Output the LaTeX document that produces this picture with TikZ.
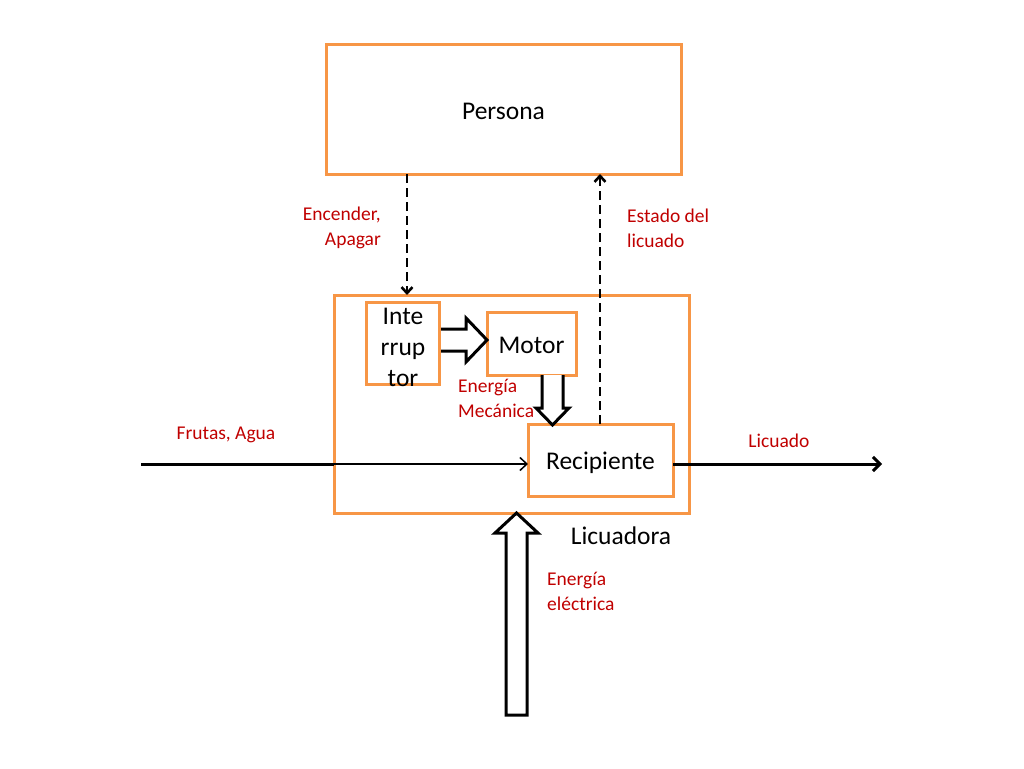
\documentclass[tikz,border=0pt]{standalone}
\usepackage{fontspec}
\setmainfont{Carlito}
\usetikzlibrary{arrows.meta}
\definecolor{boxorange}{HTML}{F79646}
\definecolor{lblred}{HTML}{C00000}
\tikzset{
  obox/.style={draw=boxorange, line width=3pt, inner sep=0pt},
  maintext/.style={font=\fontsize{25.5}{31}\selectfont, text=black},
  lbl/.style={font=\fontsize{19.5}{25}\selectfont, text=lblred, inner sep=0pt},
  dashconn/.style={line width=2.6pt, dash pattern=on 9pt off 5pt, -{Straight Barb[length=6pt,width=11pt]}},
  flow/.style={line width=3pt, -{Straight Barb[length=7pt,width=14pt]}},
  thinflow/.style={line width=1.5pt, -{Straight Barb[length=7pt,width=13pt]}},
  hollow/.style={draw=black, line width=3pt, fill=white, line join=miter}
}
\begin{document}
\begin{tikzpicture}[x=1pt,y=-1pt]
\useasboundingbox (0,0) rectangle (1024,768);
% boxes
\node[obox, minimum width=355pt, minimum height=129pt] (persona) at (503.5,109.5) {};
\node[maintext, yshift=-2pt] at (persona.center) {Persona};
\node[obox, minimum width=355pt, minimum height=218pt] (licuadora) at (511.5,404) {};
\node[obox, minimum width=73pt, minimum height=82pt] (inter) at (402.5,343) {};
\node[maintext, align=center, inner sep=0pt] (intertext) at (403,347) {Inte\\rrup\\tor};
\node[obox, minimum width=89pt, minimum height=63pt] (motor) at (531.5,343.5) {};
\node[maintext, yshift=-2pt] at (motor.center) {Motor};
\node[obox, minimum width=145pt, minimum height=72pt] (recip) at (600.5,460) {};
\node[maintext, yshift=-3pt] at (recip.center) {Recipiente};
\node[maintext, anchor=center] (licualbl) at (621,536) {Licuadora};

% dashed connectors
\coordinate (encTop) at (407,174);
\coordinate (encBot) at (407,295);
\draw[dashconn] (encTop) -- (encBot);
\coordinate (estBot) at (600,424);
\coordinate (estTop) at (600,174);
\draw[dashconn] (estBot) -- (estTop);

% flows
\coordinate (inStart) at (141,464);
\coordinate (inEdge) at (334,464);
\coordinate (recipL) at (528,464);
\draw[line width=3pt] (inStart) -- (inEdge);
\draw[thinflow] (inEdge) -- (recipL);
\coordinate (recipR) at (673,464);
\coordinate (outEnd) at (882,464);
\draw[flow] (recipR) -- (outEnd);

% hollow arrows
\draw[hollow] (441,329) -- (466,329) -- (466,318) -- (487,340) -- (466,362) -- (466,351) -- (441,351);
\draw[hollow] (542,375) -- (542,408) -- (536,408) -- (552.5,425) -- (569,408) -- (563,408) -- (563,375);
\draw[hollow] (506,715) -- (506,533) -- (495,533) -- (516.5,513) -- (538,533) -- (527,533) -- (527,715) -- cycle;

% labels
\node[lbl, align=right, anchor=east] (enc) at (381,228) {Encender,\\Apagar};
\node[lbl, align=left, anchor=west] (est) at (627,228) {Estado del\\licuado};
\node[lbl] (frutas) at (226,435) {Frutas, Agua};
\node[lbl] (licuado) at (779,441) {Licuado};
\node[lbl, align=left, anchor=west] (emec) at (458,398) {Energía\\Mecánica};
\node[lbl, align=left, anchor=west] (eele) at (547,591) {Energía\\eléctrica};
\end{tikzpicture}
\end{document}
